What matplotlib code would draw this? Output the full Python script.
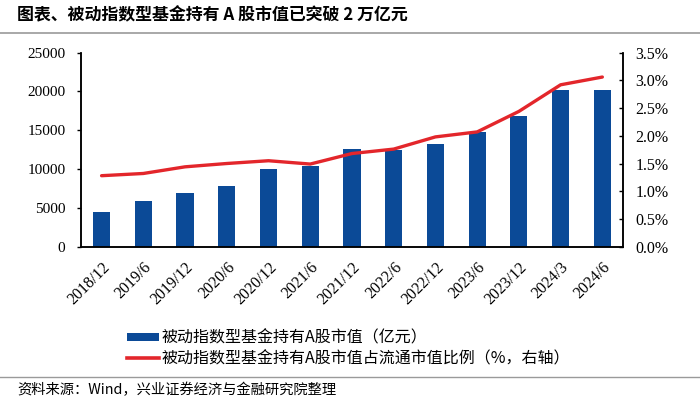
import matplotlib.pyplot as plt
from matplotlib.patches import Patch
from matplotlib.lines import Line2D

plt.rcParams['font.family'] = ['Noto Sans CJK SC', 'DejaVu Sans']

# data
periods = ['2018/12', '2019/6', '2019/12', '2020/6', '2020/12', '2021/6', '2021/12',
           '2022/6', '2022/12', '2023/6', '2023/12', '2024/3', '2024/6']
hold_value = [4500, 5850, 6900, 7800, 9950, 10400, 12550,
              12450, 13200, 14800, 16800, 20150, 20250]   # 亿元
hold_ratio = [1.28, 1.32, 1.44, 1.50, 1.55, 1.49, 1.68,
              1.76, 1.98, 2.07, 2.44, 2.92, 3.06]         # %

bar_color = '#0b4a97'
line_color = '#e3262b'
num_font = 'Liberation Serif'

fig = plt.figure(figsize=(7, 4.05), dpi=100)
ax = fig.add_axes([0.1153, 0.391, 0.775, 0.479])
ax2 = ax.twinx()

x = range(len(periods))
ax.bar(x, hold_value, width=0.41, color=bar_color, zorder=2)
ax2.plot(x, hold_ratio, color=line_color, linewidth=2.4, solid_capstyle='round', zorder=3)

ax.set_xlim(-0.5, len(periods) - 0.5)
ax.set_ylim(0, 25000)
ax.set_yticks(range(0, 25001, 5000))
ax.set_yticklabels([str(v) for v in range(0, 25001, 5000)], family=num_font, fontsize=11)
ax2.set_ylim(0, 3.5)
ticks2 = [i * 0.5 for i in range(8)]
ax2.set_yticks(ticks2)
ax2.set_yticklabels([f'{t:.1f}%' for t in ticks2], family=num_font, fontsize=11.5)

ax.set_xticks(list(x))
ax.set_xticklabels(periods, rotation=45, ha='right', rotation_mode='anchor',
                   family=num_font, fontsize=11.5)
ax.tick_params(axis='x', length=0, pad=9)
ax.tick_params(axis='y', direction='out', length=3, width=1, pad=8)
ax2.tick_params(axis='y', direction='in', length=3, width=1, pad=9)

for a in (ax, ax2):
    a.spines['top'].set_visible(False)
    for s in ('left', 'right', 'bottom'):
        a.spines[s].set_linewidth(1.1)
        a.spines[s].set_color('black')

# title and rules
fig.text(0.024, 0.962, '图表、被动指数型基金持有 A 股市值已突破 2 万亿元',
         fontsize=12.2, fontweight='bold', va='center', ha='left')
fig.add_artist(Line2D([0, 1], [0.918, 0.918], color='#9a9a9a', linewidth=1.2))
fig.add_artist(Line2D([0, 1], [0.069, 0.069], color='#9a9a9a', linewidth=1.0))
fig.text(0.024, 0.037, '资料来源：Wind，兴业证券经济与金融研究院整理',
         fontsize=10.3, va='center', ha='left')

handles = [Patch(facecolor=bar_color, edgecolor='none'),
           Line2D([0], [0], color=line_color, linewidth=2.6)]
labels = ['被动指数型基金持有A股市值（亿元）',
          '被动指数型基金持有A股市值占流通市值比例（%，右轴）']
fig.legend(handles, labels, loc='upper left', bbox_to_anchor=(0.181, 0.187),
           frameon=False, fontsize=11.5, handlelength=2.05, handleheight=0.4,
           handletextpad=0.15, labelspacing=0.25, borderpad=0, borderaxespad=0)

fig.savefig('out.png', dpi=100)
